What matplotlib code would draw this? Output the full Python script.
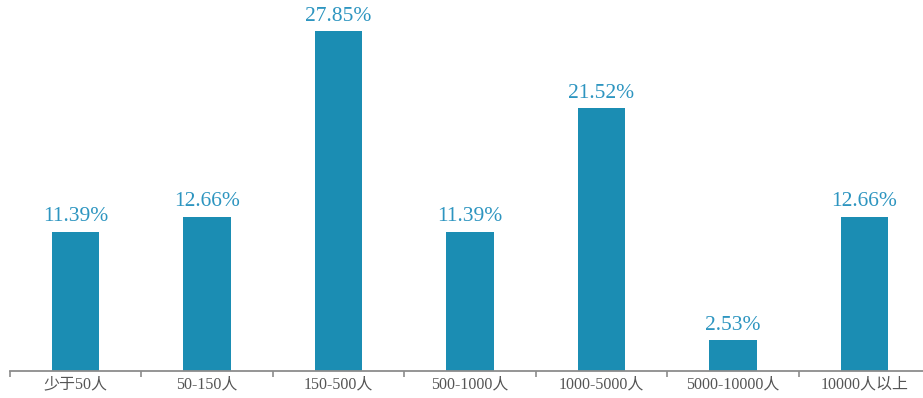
import matplotlib
matplotlib.use("Agg")
import matplotlib.pyplot as plt
import numpy as np

categories = ["少于50人", "50-150人", "150-500人", "500-1000人", "1000-5000人", "5000-10000人", "10000人以上"]
values = [11.39, 12.66, 27.85, 11.39, 21.52, 2.53, 12.66]
value_labels = ["11.39%", "12.66%", "27.85%", "11.39%", "21.52%", "2.53%", "12.66%"]

fams = ["Liberation Serif", "Noto Sans CJK SC", "DejaVu Sans"]
plt.rcParams["font.family"] = fams

W, H = 923, 398
fig = plt.figure(figsize=(W / 100, H / 100), dpi=100)
left = 10 / W
bottom = (H - 371) / H
width = 920 / W
height = 366 / H
ax = fig.add_axes([left, bottom, width, height])

x = np.arange(len(categories))
bar_color = "#1b8db3"
ax.bar(x, values, width=0.36, color=bar_color, zorder=2)
for xi, v, lab in zip(x, values, value_labels):
    ax.annotate(lab, (xi, v), xytext=(0, 4), textcoords="offset points",
                ha="center", va="bottom", fontsize=15.5, color="#2d95c0")

ax.set_xlim(-0.5, len(categories) - 0.5)
ax.set_ylim(0, 30)
for s in ["top", "right", "left"]:
    ax.spines[s].set_visible(False)
ax.spines["bottom"].set_color("#8c8c8c")
ax.spines["bottom"].set_linewidth(1.3)
ax.set_yticks([])
ax.set_xticks(np.arange(-0.5, len(categories), 1.0))
ax.set_xticklabels([])
ax.set_xticks(x, minor=True)
ax.set_xticklabels(categories, minor=True, fontsize=11.5, color="#555555")
ax.tick_params(axis="x", which="major", length=4, width=1.2, color="#8c8c8c", direction="out")
ax.tick_params(axis="x", which="minor", length=0, pad=4)

fig.savefig("out.png", dpi=100)
